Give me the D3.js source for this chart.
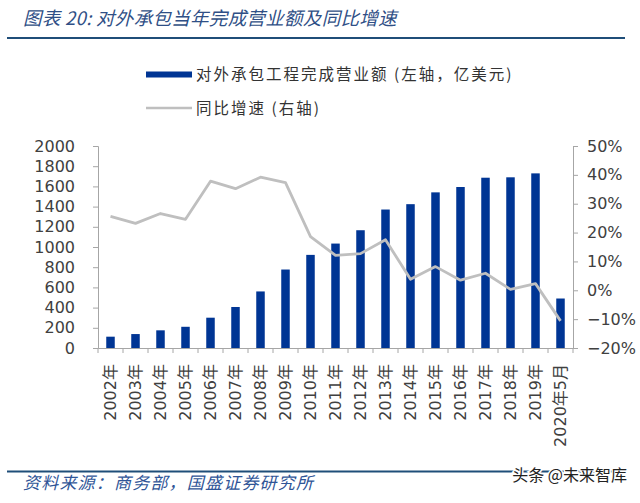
<!DOCTYPE html>
<html>
<head>
<meta charset="utf-8">
<script src="https://cdn.jsdelivr.net/npm/d3@7"></script>
<style>
  body { margin: 0; background: #fff; }
  svg text { font-family: "DejaVu Sans", sans-serif; }
  .cjk { font-family: "Noto Sans CJK SC", sans-serif; }
</style>
</head>
<body>
<div id="chart-area"></div>
<script>
// data
var categories = ['2002年','2003年','2004年','2005年','2006年','2007年','2008年','2009年','2010年',
    '2011年','2012年','2013年','2014年','2015年','2016年','2017年','2018年','2019年','2020年5月'];
var turnover = [112, 138, 175, 210, 300, 406, 560, 777, 922, 1034, 1166, 1371, 1424, 1541, 1594, 1686, 1690, 1729, 490];
var growth = [0.256, 0.232, 0.266, 0.246, 0.378, 0.352, 0.392, 0.373, 0.186, 0.121, 0.127, 0.175, 0.038, 0.082, 0.035, 0.059, 0.003, 0.023, -0.106];
var leftTicks = [0, 200, 400, 600, 800, 1000, 1200, 1400, 1600, 1800, 2000];
var rightTicks = [-0.2, -0.1, 0, 0.1, 0.2, 0.3, 0.4, 0.5];

var def = {
    width: 640,
    height: 503,
    left: 98,
    right: 573,
    top: 146,
    bottom: 348,
    blue: '#003594',
    grey: '#BFBFBF',
    axis: '#A6A6A6',
    text: '#404040',
    rule: '#1F4E79'
};

var svg = d3.select('#chart-area').append('svg')
    .attr('width', def.width)
    .attr('height', def.height);

// title + rules
svg.append('text')
    .attr('class', 'cjk')
    .attr('x', 23).attr('y', 25)
    .attr('font-size', '18.5px')
    .attr('letter-spacing', '0.3px')
    .attr('font-style', 'italic')
    .attr('fill', '#2F4F86')
    .text('图表 20:  对外承包当年完成营业额及同比增速');

svg.append('line')
    .attr('x1', 7).attr('x2', 625).attr('y1', 38).attr('y2', 38)
    .attr('stroke', def.rule).attr('stroke-width', 2);

svg.append('line')
    .attr('x1', 7).attr('x2', 625).attr('y1', 471.5).attr('y2', 471.5)
    .attr('stroke', def.rule).attr('stroke-width', 2);

svg.append('text')
    .attr('class', 'cjk')
    .attr('x', 23).attr('y', 489)
    .attr('font-size', '17px')
    .attr('letter-spacing', '1.2px')
    .attr('font-style', 'italic')
    .attr('fill', '#2F5597')
    .text('资料来源：商务部，国盛证券研究所');

svg.append('text')
    .attr('class', 'cjk')
    .attr('x', 627).attr('y', 481)
    .attr('text-anchor', 'end')
    .attr('font-size', '16px')
    .attr('fill', '#222')
    .attr('stroke', '#fff').attr('stroke-width', 3).attr('paint-order', 'stroke')
    .text('头条 @未来智库');

// legend
var leg = svg.append('g');
leg.append('rect')
    .attr('x', 146).attr('y', 71.5).attr('width', 46).attr('height', 6)
    .attr('fill', def.blue);
leg.append('text')
    .attr('class', 'cjk')
    .attr('x', 196).attr('y', 80)
    .attr('font-size', '15.5px')
    .attr('letter-spacing', '2px')
    .attr('fill', '#333')
    .text('对外承包工程完成营业额 (左轴，亿美元)');
leg.append('line')
    .attr('x1', 146).attr('x2', 192).attr('y1', 108).attr('y2', 108)
    .attr('stroke', def.grey).attr('stroke-width', 2.5);
leg.append('text')
    .attr('class', 'cjk')
    .attr('x', 196).attr('y', 113.5)
    .attr('font-size', '15.5px')
    .attr('letter-spacing', '2px')
    .attr('fill', '#333')
    .text('同比增速 (右轴)');

// scales
var xStep = d3.scaleBand()
    .domain(categories)
    .range([def.left, def.right])
    .padding(0);

var x = d3.scaleBand()
    .domain(categories)
    .range([def.left, def.right])
    .paddingInner(0.66)
    .paddingOuter(0.33);

var y = d3.scaleLinear().domain([0, 2000]).range([def.bottom, def.top]);
var y2 = d3.scaleLinear().domain([-0.2, 0.5]).range([def.bottom, def.top]);

// bars
svg.append('g').selectAll('rect')
    .data(turnover)
    .enter().append('rect')
    .attr('x', (d, i) => x(categories[i]))
    .attr('width', x.bandwidth())
    .attr('y', d => y(d))
    .attr('height', d => y(0) - y(d))
    .attr('fill', def.blue);

// growth line
var line = d3.line()
    .x((d, i) => xStep(categories[i]) + xStep.bandwidth() / 2)
    .y(d => y2(d));

svg.append('path')
    .datum(growth)
    .attr('d', line)
    .attr('fill', 'none')
    .attr('stroke', def.grey)
    .attr('stroke-width', 2.8)
    .attr('stroke-linejoin', 'round');

// axes
var yAxis = svg.append('g')
    .attr('transform', 'translate(' + def.left + ',0)')
    .call(d3.axisLeft(y).tickValues(leftTicks).tickSize(5).tickPadding(18).tickFormat(d3.format('d')));

var y2Axis = svg.append('g')
    .attr('transform', 'translate(' + def.right + ',0)')
    .call(d3.axisRight(y2).tickValues(rightTicks).tickSize(5).tickPadding(9).tickFormat(d3.format('.0%')));

var xAxis = svg.append('g')
    .attr('transform', 'translate(0,' + def.bottom + ')')
    .call(d3.axisBottom(xStep).tickSize(0).tickPadding(0));

// x ticks sit on the band boundaries
xAxis.selectAll('.bound')
    .data(categories.concat(['end']))
    .enter().append('line')
    .attr('class', 'bound')
    .attr('x1', (d, i) => def.left + i * xStep.step())
    .attr('x2', (d, i) => def.left + i * xStep.step())
    .attr('y1', 0).attr('y2', 5)
    .attr('stroke', def.axis);

xAxis.selectAll('.tick text')
    .attr('transform', 'rotate(-90)')
    .attr('text-anchor', 'end')
    .attr('dy', '0.35em')
    .attr('x', -16)
    .attr('y', 0);

[yAxis, y2Axis, xAxis].forEach(function(a) {
    a.select('.domain').attr('stroke', def.axis);
    a.selectAll('.tick line').attr('stroke', def.axis);
    a.selectAll('text')
        .attr('font-size', '16px')
        .attr('fill', def.text)
        .style('font-family', '"DejaVu Sans", "Noto Sans CJK SC", sans-serif');
});
</script>
</body>
</html>
